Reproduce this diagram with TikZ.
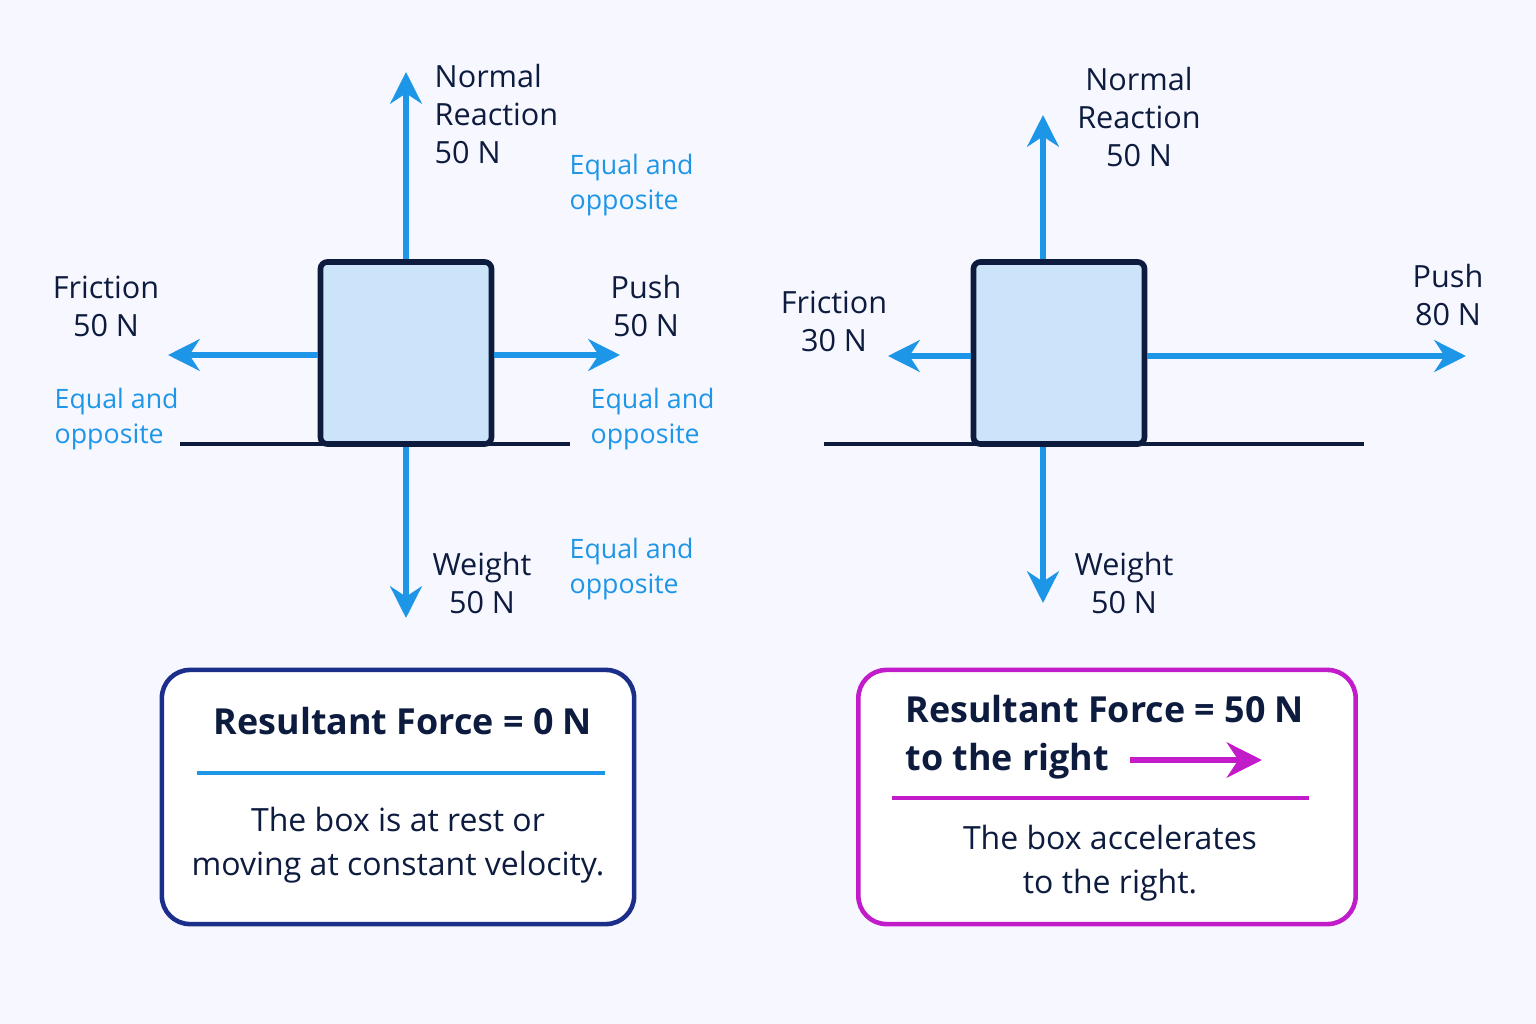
\documentclass[tikz,border=0pt]{standalone}
\usepackage{fontspec}
\setmainfont{Open Sans}
\usetikzlibrary{positioning, calc, arrows.meta}
\definecolor{navy}{HTML}{0D1B3E}
\definecolor{arrowblue}{HTML}{1E96E8}
\definecolor{boxfill}{HTML}{CCE4FA}
\definecolor{plum}{HTML}{C21BC9}
\definecolor{frame}{HTML}{1A2E8A}
\begin{document}
\begin{tikzpicture}[x=0.01cm,y=-0.01cm,
  box/.style={draw=navy,line width=1.6pt,fill=boxfill,rounded corners=2pt,minimum width=1.71cm,minimum height=1.82cm},
  force/.style={-{Stealth[length=9pt,width=9pt]},arrowblue,line width=1.7pt},
  lbl/.style={font=\fontsize{8.7}{10.8}\selectfont,text=navy,align=left,inner sep=0pt},
  note/.style={font=\fontsize{7.6}{9.8}\selectfont,text=arrowblue,align=left,inner sep=0pt},
  panel/.style={draw,line width=1.3pt,rounded corners=8pt,fill=white}]
\useasboundingbox (0,0) rectangle (1536,1024);
\fill[white!97!blue] (0,0) rectangle (1536,1024);
% left: balanced forces
\draw[navy,line width=1.3pt] (180,444) -- (570,444);
\node (boxA) [box] at (406,353) {};
\coordinate (upA) at (406,72);
\coordinate (downA) at (406,618);
\coordinate (leftA) at (168,355);
\coordinate (rightA) at (620,355);
\draw[force] (boxA.north) -- (upA);
\draw[force] (boxA.south) -- (downA);
\draw[force] (boxA.west |- leftA) -- (leftA);
\draw[force] (boxA.east |- rightA) -- (rightA);
\node (nA) [lbl,anchor=north west] at (434,64) {Normal\\Reaction\\50 N};
\node (fA) [lbl,align=center] at (106,306) {Friction\\50 N};
\node (pA) [lbl,align=center] at (646,306) {Push\\50 N};
\node (wA) [lbl,align=center] at (482,583) {Weight\\50 N};
\node (e1) [note,anchor=west] at (569,185) {Equal and\\opposite};
\node (e2) [note,anchor=west] at (54,419) {Equal and\\opposite};
\node (e3) [note,anchor=west] at (590,419) {Equal and\\opposite};
\node (e4) [note,anchor=west] at (569,569) {Equal and\\opposite};
% right: unbalanced forces
\draw[navy,line width=1.3pt] (824,444) -- (1364,444);
\node (boxB) [box] at (1059,353) {};
\coordinate (upB) at (1043,115);
\coordinate (downB) at (1043,603);
\coordinate (leftB) at (888,356);
\coordinate (rightB) at (1466,356);
\draw[force] (boxB.north -| upB) -- (upB);
\draw[force] (boxB.south -| downB) -- (downB);
\draw[force] (boxB.west |- leftB) -- (leftB);
\draw[force] (boxB.east |- rightB) -- (rightB);
\node (nB) [lbl,align=center] at (1139,117) {Normal\\Reaction\\50 N};
\node (fB) [lbl,align=center] at (834,321) {Friction\\30 N};
\node (pB) [lbl,align=center] at (1448,295) {Push\\80 N};
\node (wB) [lbl,align=center] at (1124,583) {Weight\\50 N};
% result panels
\node (rA) [panel,draw=frame,minimum width=4.72cm,minimum height=2.54cm] at (398,797) {};
\node (tA) [font=\fontsize{10.2}{13.5}\selectfont\bfseries,text=navy] at (403,721) {Resultant Force = 0 N};
\draw[arrowblue,line width=1.1pt] (197,773) -- (605,773);
\node (sA) [font=\fontsize{9.1}{12.5}\selectfont,text=navy,align=center] at (398,845) {The box is at rest or\\moving at constant velocity.};
\node (rB) [panel,draw=plum,minimum width=4.97cm,minimum height=2.54cm] at (1107,797) {};
\node (tB) [font=\fontsize{10.2}{13.5}\selectfont\bfseries,text=navy,align=left,anchor=west] at (893,737) {Resultant Force = 50 N\\to the right};
\coordinate (aS) at (1130,760);
\coordinate (aE) at (1262,760);
\draw[-{Stealth[length=10pt,width=10pt]},plum,line width=1.8pt] (aS) -- (aE);
\draw[plum,line width=1.1pt] (892,798) -- (1309,798);
\node (sB) [font=\fontsize{9.1}{12.5}\selectfont,text=navy,align=center] at (1110,863) {The box accelerates\\to the right.};
\end{tikzpicture}
\end{document}
